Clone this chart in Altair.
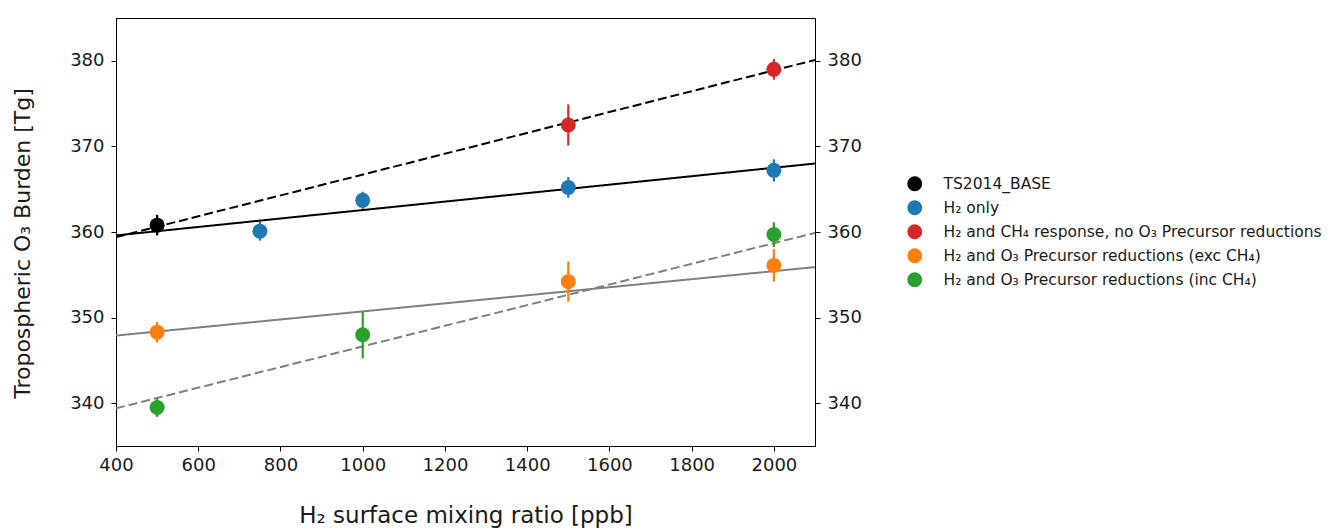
import altair as alt
import pandas as pd

series_names = [
    "TS2014_BASE",
    "H₂ only",
    "H₂ and CH₄ response, no O₃ Precursor reductions",
    "H₂ and O₃ Precursor reductions (exc CH₄)",
    "H₂ and O₃ Precursor reductions (inc CH₄)",
]
series_colors = ["#000000", "#1f77b4", "#d62728", "#ff7f0e", "#2ca02c"]

base_x = [500]
base_y = [360.8]
base_err = [1.2]

h2_x = [750, 1000, 1500, 2000]
h2_y = [360.1, 363.7, 365.2, 367.2]
h2_err = [1.1, 1.0, 1.2, 1.3]

ch4_x = [1500, 2000]
ch4_y = [372.5, 379.0]
ch4_err = [2.4, 1.2]

exc_x = [500, 1500, 2000]
exc_y = [348.3, 354.2, 356.1]
exc_err = [1.2, 2.35, 1.9]

inc_x = [500, 1000, 2000]
inc_y = [339.5, 348.0, 359.7]
inc_err = [1.1, 2.75, 1.45]

# fitted lines (end points)
fit_x = [400, 2100]
fit_h2_y = [359.6, 368.0]
fit_ch4_y = [359.4, 380.1]
fit_exc_y = [347.9, 355.9]
fit_inc_y = [339.4, 359.9]

x_ticks = [400, 600, 800, 1000, 1200, 1400, 1600, 1800, 2000]
y_ticks = [340, 350, 360, 370, 380]

rows = []
for name, xs, ys, es in [
    (series_names[0], base_x, base_y, base_err),
    (series_names[1], h2_x, h2_y, h2_err),
    (series_names[2], ch4_x, ch4_y, ch4_err),
    (series_names[3], exc_x, exc_y, exc_err),
    (series_names[4], inc_x, inc_y, inc_err),
]:
    for x, y, e in zip(xs, ys, es):
        rows.append({"series": name, "x": x, "y": y, "lo": y - e, "hi": y + e})
pts = pd.DataFrame(rows)

line_rows = []
for lid, ys, col, dash in [
    ("h2", fit_h2_y, "#000000", "solid"),
    ("ch4", fit_ch4_y, "#000000", "dash"),
    ("exc", fit_exc_y, "#808080", "solid"),
    ("inc", fit_inc_y, "#808080", "dash"),
]:
    for x, y in zip(fit_x, ys):
        line_rows.append({"line": lid, "x": x, "y": y, "col": col, "dash": dash})
lines = pd.DataFrame(line_rows)

FONT = "DejaVu Sans"
TXT = "#1a1a1a"
xscale = alt.Scale(domain=[400, 2100], nice=False, zero=False)
yscale = alt.Scale(domain=[335, 385], nice=False, zero=False)

xaxis = alt.Axis(
    values=x_ticks, format="d", labelFlush=False,
    grid=False, tickSize=5, labelFontSize=18, titleFontSize=23,
    titleFontWeight="normal", titlePadding=30, labelPadding=5,
    domainColor="black", tickColor="black", labelColor=TXT,
    labelFont=FONT, titleFont=FONT, titleColor=TXT,
)
yaxis_left = alt.Axis(
    values=y_ticks, grid=False, tickSize=5, labelFlush=False,
    labelFontSize=18, titleFontSize=22, titleFontWeight="normal",
    titlePadding=35, labelPadding=7, domainColor="black", tickColor="black",
    labelColor=TXT, labelFont=FONT, titleFont=FONT, titleColor=TXT,
    titleY=225,
)
yaxis_right = alt.Axis(
    orient="right", values=y_ticks, grid=False, tickSize=5, labelFlush=False,
    labelFontSize=18, labelPadding=7, domainColor="black", tickColor="black",
    labelColor=TXT, labelFont=FONT, title="",
)

line_layer = alt.Chart(lines).mark_line(strokeWidth=2, clip=True).encode(
    x=alt.X("x:Q", scale=xscale, axis=xaxis, title="H₂ surface mixing ratio [ppb]"),
    y=alt.Y("y:Q", scale=yscale, axis=yaxis_left, title="Tropospheric O₃ Burden [Tg]"),
    detail="line:N",
    color=alt.Color("col:N", scale=None),
    strokeDash=alt.StrokeDash(
        "dash:N",
        scale=alt.Scale(domain=["solid", "dash"], range=[[1, 0], [9, 4]]),
        legend=None,
    ),
)

color_enc = alt.Color(
    "series:N",
    scale=alt.Scale(domain=series_names, range=series_colors),
    sort=series_names,
    legend=alt.Legend(
        title=None, orient="none", legendX=791, legendY=158,
        symbolType="circle", symbolSize=220, symbolStrokeWidth=0,
        labelFontSize=15.5, labelFont=FONT, labelColor=TXT,
        labelOffset=21, rowPadding=7, padding=0, labelLimit=600,
    ),
)

err_layer = alt.Chart(pts).mark_rule(strokeWidth=2.2).encode(
    x="x:Q",
    y=alt.Y("lo:Q", axis=None),
    y2="hi:Q",
    color=alt.Color("series:N", scale=alt.Scale(domain=series_names, range=series_colors), legend=None),
)

pt_layer = alt.Chart(pts).mark_circle(size=225, opacity=1).encode(
    x="x:Q",
    y=alt.Y("y:Q", axis=None),
    color=color_enc,
)

right_axis_layer = alt.Chart(pts).mark_point(opacity=0).encode(
    x="x:Q",
    y=alt.Y("y:Q", scale=yscale, axis=yaxis_right),
)

chart = alt.layer(line_layer, err_layer, pt_layer, right_axis_layer).resolve_axis(
    y="independent"
).resolve_scale(
    color="independent"
).properties(
    width=699, height=428,
    background="white",
    autosize=alt.AutoSizeParams(type="none"),
    padding={"left": 116, "top": 18, "right": 516, "bottom": 84},
).configure_view(
    stroke="black", strokeWidth=1
)

chart.save("out.html", embed_options={"renderer": "svg", "actions": False})
